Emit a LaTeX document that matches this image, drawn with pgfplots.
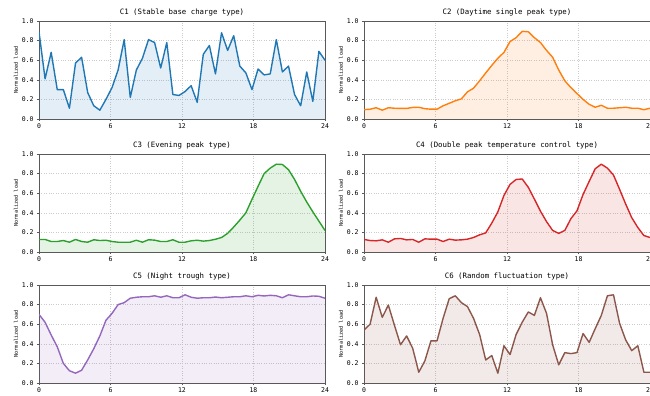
\documentclass[border=0pt]{standalone}
\usepackage{fontspec}
\setmainfont{DejaVu Sans Mono}
\usepackage{pgfplots}
\pgfplotsset{compat=1.18}
\usepackage{pgfplotstable}
\definecolor{cA}{HTML}{1F77B4}
\definecolor{cB}{HTML}{FF7F0E}
\definecolor{cC}{HTML}{2CA02C}
\definecolor{cD}{HTML}{D62728}
\definecolor{cE}{HTML}{9467BD}
\definecolor{cF}{HTML}{8C564B}
\pgfplotstableread{
c1 c2 c3 c4 c5 c6
0.89 0.095 0.128 0.128 0.70 0.54
0.41 0.10 0.128 0.117 0.62 0.60
0.68 0.115 0.107 0.114 0.49 0.875
0.30 0.09 0.107 0.124 0.37 0.67
0.30 0.115 0.117 0.10 0.20 0.795
0.11 0.11 0.10 0.134 0.125 0.59
0.57 0.108 0.128 0.138 0.10 0.39
0.63 0.108 0.107 0.124 0.13 0.48
0.27 0.118 0.10 0.128 0.235 0.355
0.135 0.12 0.125 0.10 0.35 0.11
0.09 0.105 0.117 0.134 0.48 0.225
0.20 0.10 0.12 0.131 0.64 0.43
0.32 0.10 0.107 0.131 0.71 0.43
0.50 0.135 0.10 0.107 0.80 0.66
0.81 0.16 0.10 0.131 0.82 0.86
0.22 0.186 0.10 0.121 0.865 0.89
0.50 0.205 0.12 0.124 0.875 0.82
0.62 0.277 0.10 0.131 0.88 0.78
0.81 0.314 0.125 0.148 0.88 0.66
0.78 0.39 0.121 0.175 0.89 0.495
0.52 0.47 0.107 0.195 0.875 0.235
0.78 0.547 0.107 0.295 0.89 0.28
0.25 0.62 0.125 0.41 0.87 0.10
0.24 0.68 0.10 0.577 0.87 0.38
0.28 0.79 0.10 0.69 0.90 0.29
0.34 0.83 0.114 0.74 0.875 0.495
0.17 0.895 0.12 0.745 0.865 0.62
0.66 0.89 0.111 0.66 0.87 0.725
0.75 0.83 0.117 0.54 0.87 0.69
0.46 0.78 0.13 0.416 0.877 0.87
0.88 0.70 0.148 0.31 0.87 0.71
0.70 0.63 0.19 0.22 0.875 0.39
0.85 0.50 0.255 0.19 0.88 0.185
0.54 0.39 0.325 0.22 0.88 0.31
0.47 0.32 0.40 0.34 0.89 0.30
0.30 0.26 0.537 0.42 0.88 0.31
0.51 0.20 0.67 0.587 0.895 0.505
0.45 0.15 0.80 0.72 0.888 0.415
0.46 0.12 0.856 0.85 0.895 0.555
0.81 0.14 0.896 0.896 0.89 0.69
0.48 0.11 0.893 0.856 0.87 0.89
0.54 0.11 0.84 0.785 0.90 0.90
0.25 0.115 0.74 0.64 0.89 0.61
0.135 0.12 0.62 0.49 0.88 0.44
0.48 0.11 0.51 0.35 0.88 0.33
0.18 0.11 0.41 0.25 0.888 0.38
0.69 0.095 0.315 0.168 0.885 0.11
0.60 0.11 0.22 0.148 0.865 0.11
}\loadtable
\pgfplotsset{panel/.style={
  scale only axis, width=286bp, height=98bp,
  xmin=0, xmax=24, ymin=0, ymax=1,
  xtick={0,6,12,18,24}, ytick={0,0.2,0.4,0.6,0.8,1.0},
  yticklabel style={/pgf/number format/.cd, fixed, fixed zerofill, precision=1},
  /pgf/number format/assume math mode=true,
  grid=major, major grid style={dotted, gray!40, line width=0.4pt},
  axis line style={black!65, line width=0.5pt},
  tick style={black!65}, tick align=outside, major tick length=2bp, tick pos=left,
  ticklabel style={font=\fontsize{6.5}{7}\selectfont},
  xticklabel style={yshift=1bp},
  ylabel={Normalized load}, ylabel style={font=\fontsize{5.2}{6}\selectfont, yshift=-3bp},
  title style={font=\fontsize{7.4}{8}\selectfont, yshift=-5bp},
  anchor=south west, clip=true,
}}
\newcommand{\series}[2]{%
  \addplot[fill=#1, fill opacity=0.12, draw=none] table[x expr=\coordindex*24/47, y=#2]{\loadtable} \closedcycle;
  \addplot[#1, line width=1.4pt, line join=round] table[x expr=\coordindex*24/47, y=#2]{\loadtable};
}
\begin{document}
\begin{tikzpicture}
\begin{axis}[panel, at={(39bp,277bp)}, title={C1 (Stable base charge type)}]
\series{cA}{c1}
\end{axis}
\begin{axis}[panel, at={(364bp,277bp)}, title={C2 (Daytime single peak type)}]
\series{cB}{c2}
\end{axis}
\begin{axis}[panel, at={(39bp,144bp)}, title={C3 (Evening peak type)}]
\series{cC}{c3}
\end{axis}
\begin{axis}[panel, at={(364bp,144bp)}, title={C4 (Double peak temperature control type)}]
\series{cD}{c4}
\end{axis}
\begin{axis}[panel, at={(39bp,13bp)}, title={C5 (Night trough type)}]
\series{cE}{c5}
\end{axis}
\begin{axis}[panel, at={(364bp,13bp)}, title={C6 (Random fluctuation type)}]
\series{cF}{c6}
\end{axis}
\pgfresetboundingbox
\useasboundingbox (0,0) rectangle (650bp,396bp);
\end{tikzpicture}
\end{document}
